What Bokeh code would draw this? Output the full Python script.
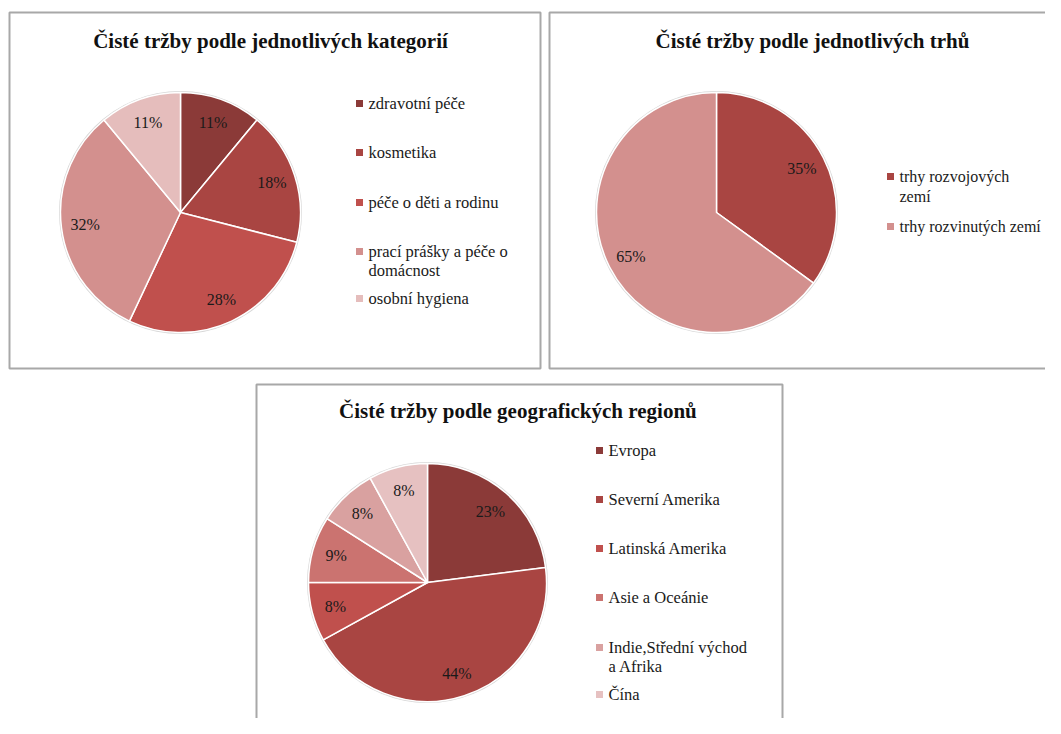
import math
from bokeh.plotting import figure
from bokeh.models import Range1d, ColumnDataSource
from bokeh.core.properties import value
from bokeh.embed import file_html
from bokeh.resources import INLINE

# ---------------- data ----------------
cat_title = "Čisté tržby podle jednotlivých kategorií"
cat_labels = ["zdravotní péče", "kosmetika", "péče o děti a rodinu",
              "prací prášky a péče o\ndomácnost", "osobní hygiena"]
cat_values = [11, 18, 28, 32, 11]
cat_colors = ["#8B3A38", "#A94542", "#C0504D", "#D3908E", "#E5BDBC"]

mkt_title = "Čisté tržby podle jednotlivých trhů"
mkt_labels = ["trhy rozvojových\nzemí", "trhy rozvinutých zemí"]
mkt_values = [35, 65]
mkt_colors = ["#A94542", "#D3908E"]

reg_title = "Čisté tržby podle geografických  regionů"
reg_labels = ["Evropa", "Severní Amerika", "Latinská Amerika", "Asie a Oceánie",
              "Indie,Střední východ\na Afrika", "Čína"]
reg_values = [23, 44, 8, 9, 8, 8]
reg_colors = ["#8B3A38", "#A94542", "#C0504D", "#CB7370", "#D9A1A0", "#E6C1C1"]

# ---------------- layout helpers ----------------
W, H = 1045, 718
FONT = "Liberation Serif"


def X(px):
    return px


def Y(py):
    return H - py


p = figure(width=W, height=H, output_backend="svg", toolbar_location=None,
           x_range=Range1d(0, W), y_range=Range1d(0, H), min_border=0)
p.axis.visible = False
p.grid.visible = False
p.outline_line_color = None
p.background_fill_color = "white"
p.border_fill_color = "white"

# panel frames
p.quad(left=[X(9), X(549), X(256)], right=[X(540), X(1075), X(782)],
       top=[Y(12), Y(12), Y(384)], bottom=[Y(368), Y(368), Y(745)],
       fill_color=None, line_color="#A8A8A8", line_width=2)


def pie(cx, cy, r, values, colors, labels, title, tx, ty,
        lx, ly_list, line_gap, legend_size="16.5px"):
    total = float(sum(values))
    starts, ends, mids = [], [], []
    acc = 0.0
    for v in values:
        a0 = math.pi / 2 - 2 * math.pi * acc / total
        acc += v
        a1 = math.pi / 2 - 2 * math.pi * acc / total
        starts.append(a0)
        ends.append(a1)
        mids.append((a0 + a1) / 2)
    # subtle shadow rim
    p.circle(x=[X(cx)], y=[Y(cy)], radius=r + 1.5, fill_color="#D8D8D8",
             line_color=None)
    src = ColumnDataSource(dict(x=[X(cx)] * len(values), y=[Y(cy)] * len(values),
                                start=starts, end=ends, color=colors))
    p.wedge(x="x", y="y", radius=r, start_angle="start", end_angle="end",
            direction="clock", fill_color="color", line_color="white",
            line_width=1.5, source=src)
    # percentage labels
    lr = 0.8 * r
    pct = ["%d%%" % round(100 * v / total) for v in values]
    p.text(x=[X(cx) + lr * math.cos(m) for m in mids],
           y=[Y(cy) + lr * math.sin(m) for m in mids],
           text=pct, text_align="center", text_baseline="middle",
           text_font=value(FONT), text_font_size="16px", text_color="#1a1a1a")
    # title
    p.text(x=[X(tx)], y=[Y(ty)], text=[title], text_align="center",
           text_baseline="middle", text_font=value(FONT),
           text_font_size="21px", text_font_style="bold", text_color="#111111")
    # legend
    p.scatter(x=[X(lx)] * len(labels), y=[Y(v) for v in ly_list], marker="square",
              size=7, fill_color=colors, line_color=None)
    xs, ys, ts = [], [], []
    for lab, yy in zip(labels, ly_list):
        for k, part in enumerate(lab.split("\n")):
            xs.append(X(lx + 9))
            ys.append(Y(yy + k * line_gap))
            ts.append(part)
    p.text(x=xs, y=ys, text=ts, text_align="left", text_baseline="middle",
           text_font=value(FONT), text_font_size=legend_size, text_color="#1a1a1a")


pie(180, 212, 120, cat_values, cat_colors, cat_labels, cat_title, 270, 40,
    359, [103, 152, 202, 251, 298], 19)
pie(716, 212, 120, mkt_values, mkt_colors, mkt_labels, mkt_title, 812, 40,
    890, [176, 226], 20, legend_size="16px")
pie(427, 582, 119, reg_values, reg_colors, reg_labels, reg_title, 520, 410,
    599, [450, 499, 548, 597, 647, 694], 19)

open("out.html", "w").write(file_html(p, INLINE))
